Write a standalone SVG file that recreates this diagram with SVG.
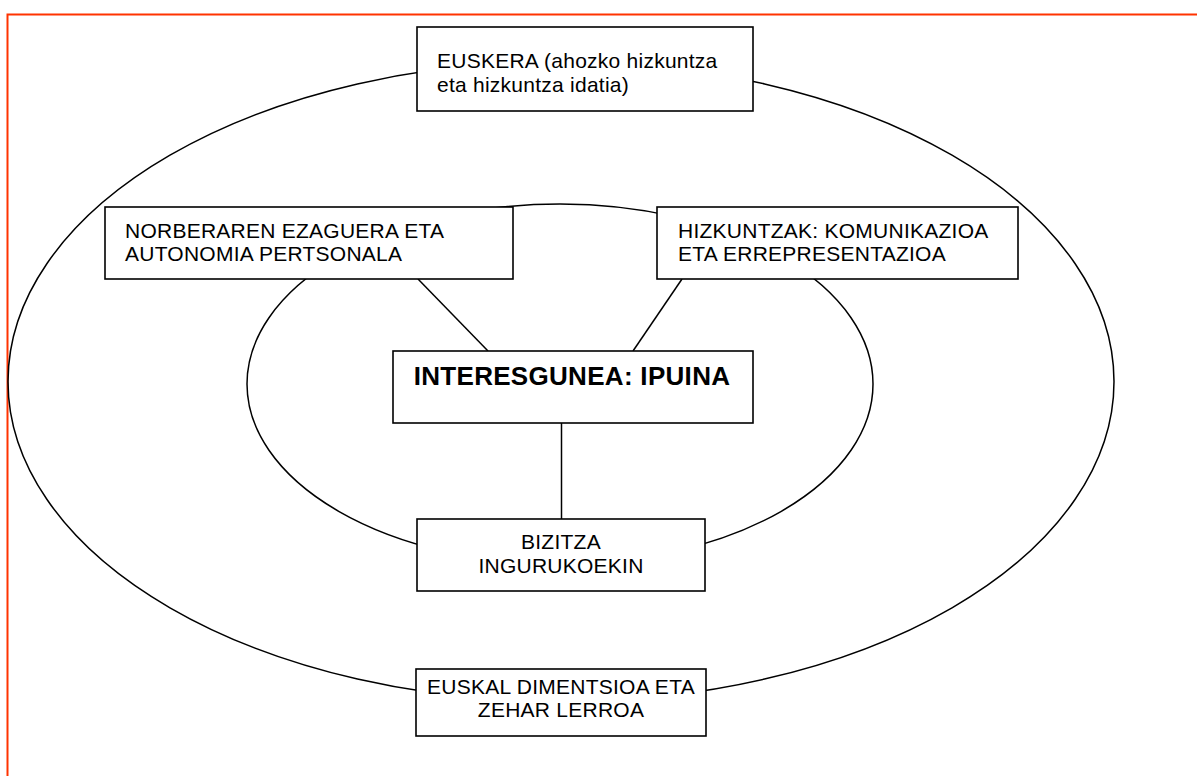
<svg xmlns="http://www.w3.org/2000/svg" width="1197" height="776" viewBox="0 0 1197 776">
<defs>
<style>
.box{fill:#fff;stroke:#000;stroke-width:1.6}
.ln{fill:none;stroke:#000;stroke-width:1.5}
.t{font-family:"Liberation Sans",Arial,sans-serif;font-size:21px;fill:#000;letter-spacing:0.25px}
.c{text-anchor:middle}
.b{font-weight:bold;font-size:26px;letter-spacing:0.3px}
</style>
</defs>
<rect x="0" y="0" width="1197" height="776" fill="#fff"/>
<rect x="7.5" y="14.5" width="1300" height="900" fill="none" stroke="#FF3300" stroke-width="2"/>
<g id="connectors">
<ellipse class="ln" cx="561" cy="381.5" rx="553" ry="320"/>
<ellipse class="ln" cx="560" cy="384" rx="313" ry="180"/>
<line class="ln" x1="418" y1="279" x2="488" y2="351"/>
<line class="ln" x1="682" y1="279" x2="633" y2="351"/>
<line class="ln" x1="561.5" y1="423" x2="561.5" y2="519"/>
</g>
<g id="euskera">
<rect class="box" x="417" y="27" width="336" height="84"/>
<text class="t" x="437" y="68">EUSKERA (ahozko hizkuntza</text>
<text class="t" x="437" y="91.5">eta hizkuntza idatia)</text>
</g>
<g id="norberaren">
<rect class="box" x="105" y="207" width="408" height="72"/>
<text class="t" x="125" y="237.5">NORBERAREN EZAGUERA ETA</text>
<text class="t" x="125" y="261">AUTONOMIA PERTSONALA</text>
</g>
<g id="hizkuntzak">
<rect class="box" x="657" y="207" width="361" height="72"/>
<text class="t" x="678" y="237.5">HIZKUNTZAK: KOMUNIKAZIOA</text>
<text class="t" x="678" y="261">ETA ERREPRESENTAZIOA</text>
</g>
<g id="interesgunea">
<rect class="box" x="393" y="351" width="360" height="72"/>
<text class="t c b" x="572" y="385">INTERESGUNEA: IPUINA</text>
</g>
<g id="bizitza">
<rect class="box" x="417" y="519" width="288" height="72"/>
<text class="t c" x="561" y="549">BIZITZA</text>
<text class="t c" x="561" y="572.5">INGURUKOEKIN</text>
</g>
<g id="euskal">
<rect class="box" x="416" y="669" width="290" height="67"/>
<text class="t c" x="561" y="694">EUSKAL DIMENTSIOA ETA</text>
<text class="t c" x="561" y="717">ZEHAR LERROA</text>
</g>
</svg>
